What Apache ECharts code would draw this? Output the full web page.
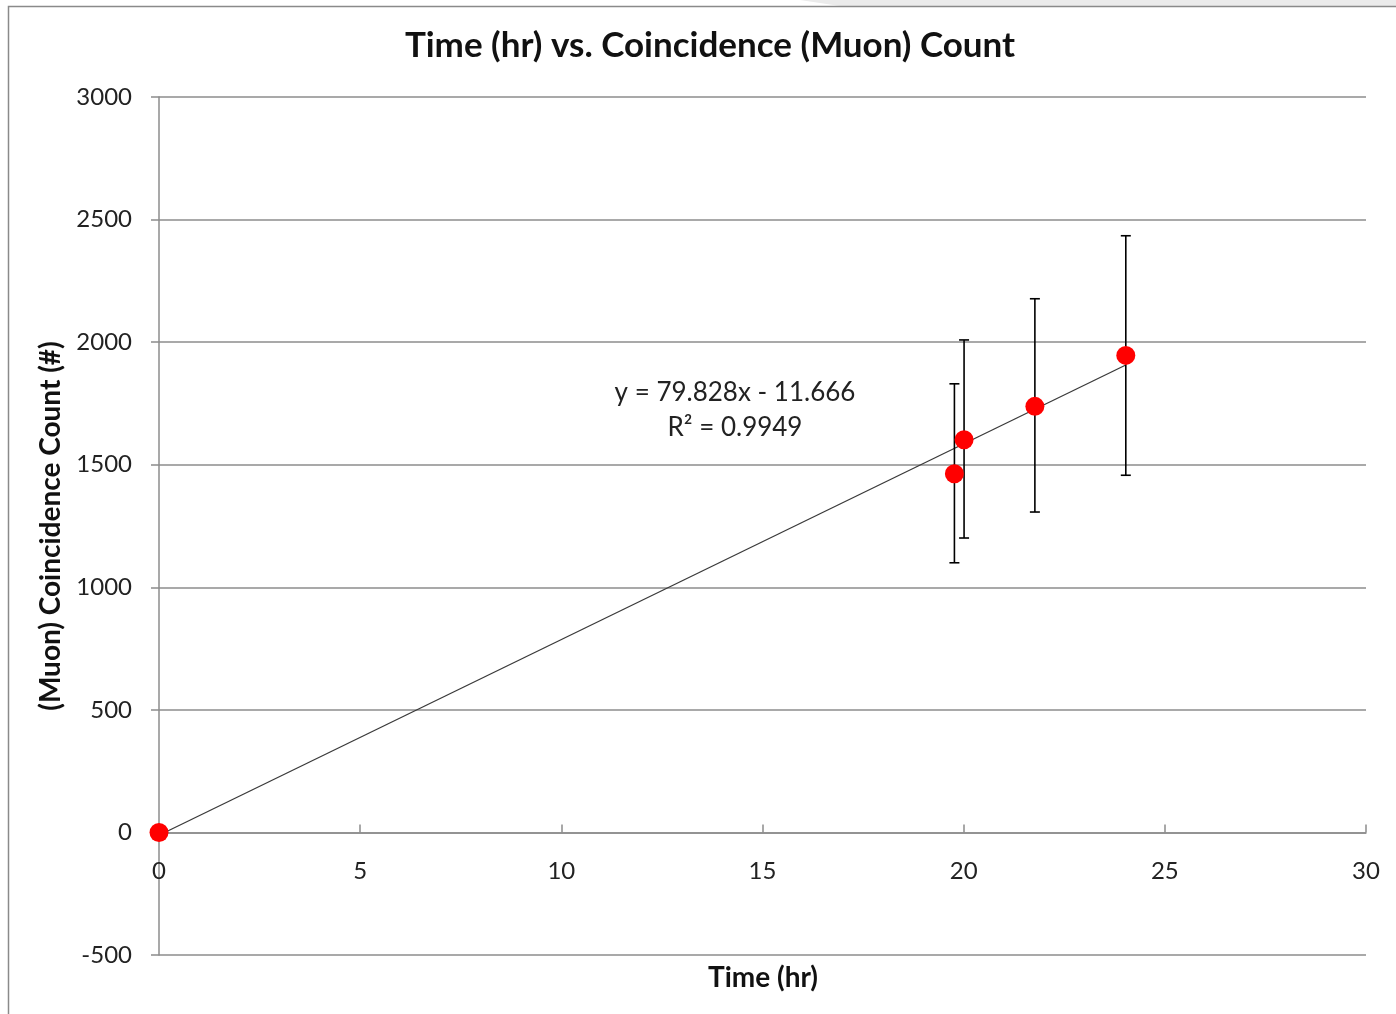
<!DOCTYPE html>
<html>
<head>
<meta charset="utf-8">
<script src="https://cdn.jsdelivr.net/npm/echarts@6/dist/echarts.min.js"></script>
<style>
html,body{margin:0;padding:0;background:#fff;}
#chart{width:1396px;height:1014px;}
</style>
</head>
<body>
<div id="chart"></div>
<script>
// ---- data ----
const timeHr = [0, 19.77, 20.01, 21.77, 24.03];
const muonCount = [0, 1463, 1602, 1738, 1946];
const errLow = [0, 1100, 1201, 1307, 1457];
const errHigh = [0, 1830, 2009, 2177, 2434];
const xTicks = [0, 5, 10, 15, 20, 25, 30];
const yTicks = [-500, 0, 500, 1000, 1500, 2000, 2500, 3000];
const trendSlope = 79.828;
const trendIntercept = -11.666;
const eqText = 'y = 79.828x - 11.666';
const r2Text = 'R² = 0.9949';

const FONT = 'Lato, "Open Sans", sans-serif';
const chart = echarts.init(document.getElementById('chart'));

const points = timeHr.map((x, i) => [x, muonCount[i]]);
const errData = timeHr.map((x, i) => [x, errLow[i], errHigh[i]]).filter(d => d[2] > d[1]);
const xMaxData = Math.max(...timeHr);
const trendData = [
  [0, trendIntercept],
  [xMaxData, trendSlope * xMaxData + trendIntercept]
];

const option = {
  animation: false,
  backgroundColor: '#fff',
  title: {
    text: 'Time (hr) vs. Coincidence (Muon) Count',
    left: 705, top: 23, textAlign: 'center',
    textStyle: {fontFamily: FONT, fontSize: 35, fontWeight: 'bold', color: '#111'}
  },
  grid: {left: 159, right: 30, top: 97, bottom: 59, outerBoundsMode: 'none', containLabel: false},
  xAxis: {
    type: 'value', min: xTicks[0], max: xTicks[xTicks.length - 1], interval: 5,
    axisLine: {onZero: true, lineStyle: {color: '#8c8c8c', width: 1.5}},
    axisTick: {inside: true, length: 8, lineStyle: {color: '#8c8c8c', width: 1.5}},
    axisLabel: {margin: -96, fontFamily: FONT, fontSize: 24, color: '#222', formatter: v => String(v)},
    splitLine: {show: false}
  },
  yAxis: {
    type: 'value', min: yTicks[0], max: yTicks[yTicks.length - 1], interval: 500,
    name: '(Muon) Coincidence Count (#)', nameLocation: 'middle', nameGap: 89,
    nameTextStyle: {fontFamily: FONT, fontSize: 28, fontWeight: 'bold', color: '#111'},
    axisLine: {show: true, onZero: false, lineStyle: {color: '#8c8c8c', width: 1.5}},
    axisTick: {show: true, length: 8, lineStyle: {color: '#8c8c8c', width: 1.5}},
    axisLabel: {margin: 27, fontFamily: FONT, fontSize: 24, color: '#222', formatter: v => String(v)},
    splitLine: {show: true, lineStyle: {color: '#8c8c8c', width: 1.5}}
  },
  series: [
    {
      type: 'line', data: trendData, symbol: 'none', silent: true,
      lineStyle: {color: '#3a3a3a', width: 1.3}, z: 3
    },
    {
      type: 'custom', data: errData, z: 4,
      renderItem: function (params, api) {
        const x = api.value(0);
        const lo = api.coord([x, api.value(1)]);
        const hi = api.coord([x, api.value(2)]);
        const cap = 5;
        const st = {stroke: '#000', lineWidth: 1.6};
        return {
          type: 'group',
          children: [
            {type: 'line', shape: {x1: lo[0], y1: lo[1], x2: hi[0], y2: hi[1]}, style: st},
            {type: 'line', shape: {x1: hi[0] - cap, y1: hi[1], x2: hi[0] + cap, y2: hi[1]}, style: st},
            {type: 'line', shape: {x1: lo[0] - cap, y1: lo[1], x2: lo[0] + cap, y2: lo[1]}, style: st}
          ]
        };
      }
    },
    {
      type: 'scatter', data: points, symbol: 'circle', symbolSize: 19, z: 5,
      itemStyle: {color: '#ff0000', opacity: 1}
    }
  ],
  graphic: [
    {type: 'polygon', shape: {points: [[800, 0], [1396, 0], [1396, 6], [840, 6]]}, style: {fill: '#ebebeb'}, z: -1},
    {type: 'polyline', shape: {points: [[8.5, 1014], [8.5, 6.5], [1396, 6.5]]}, style: {stroke: '#8a8a8a', lineWidth: 1.5, fill: null}},
    {type: 'text', x: 735, y: 393, style: {text: eqText, align: 'center', verticalAlign: 'middle', fontFamily: FONT, fontSize: 26, fill: '#222'}},
    {type: 'text', x: 735, y: 428, style: {text: r2Text, align: 'center', verticalAlign: 'middle', fontFamily: FONT, fontSize: 26, fill: '#222'}},
    {type: 'text', x: 763, y: 978, style: {text: 'Time (hr)', align: 'center', verticalAlign: 'middle', fontFamily: FONT, fontSize: 28, fontWeight: 'bold', fill: '#111'}}
  ]
};
chart.setOption(option);
</script>
</body>
</html>
